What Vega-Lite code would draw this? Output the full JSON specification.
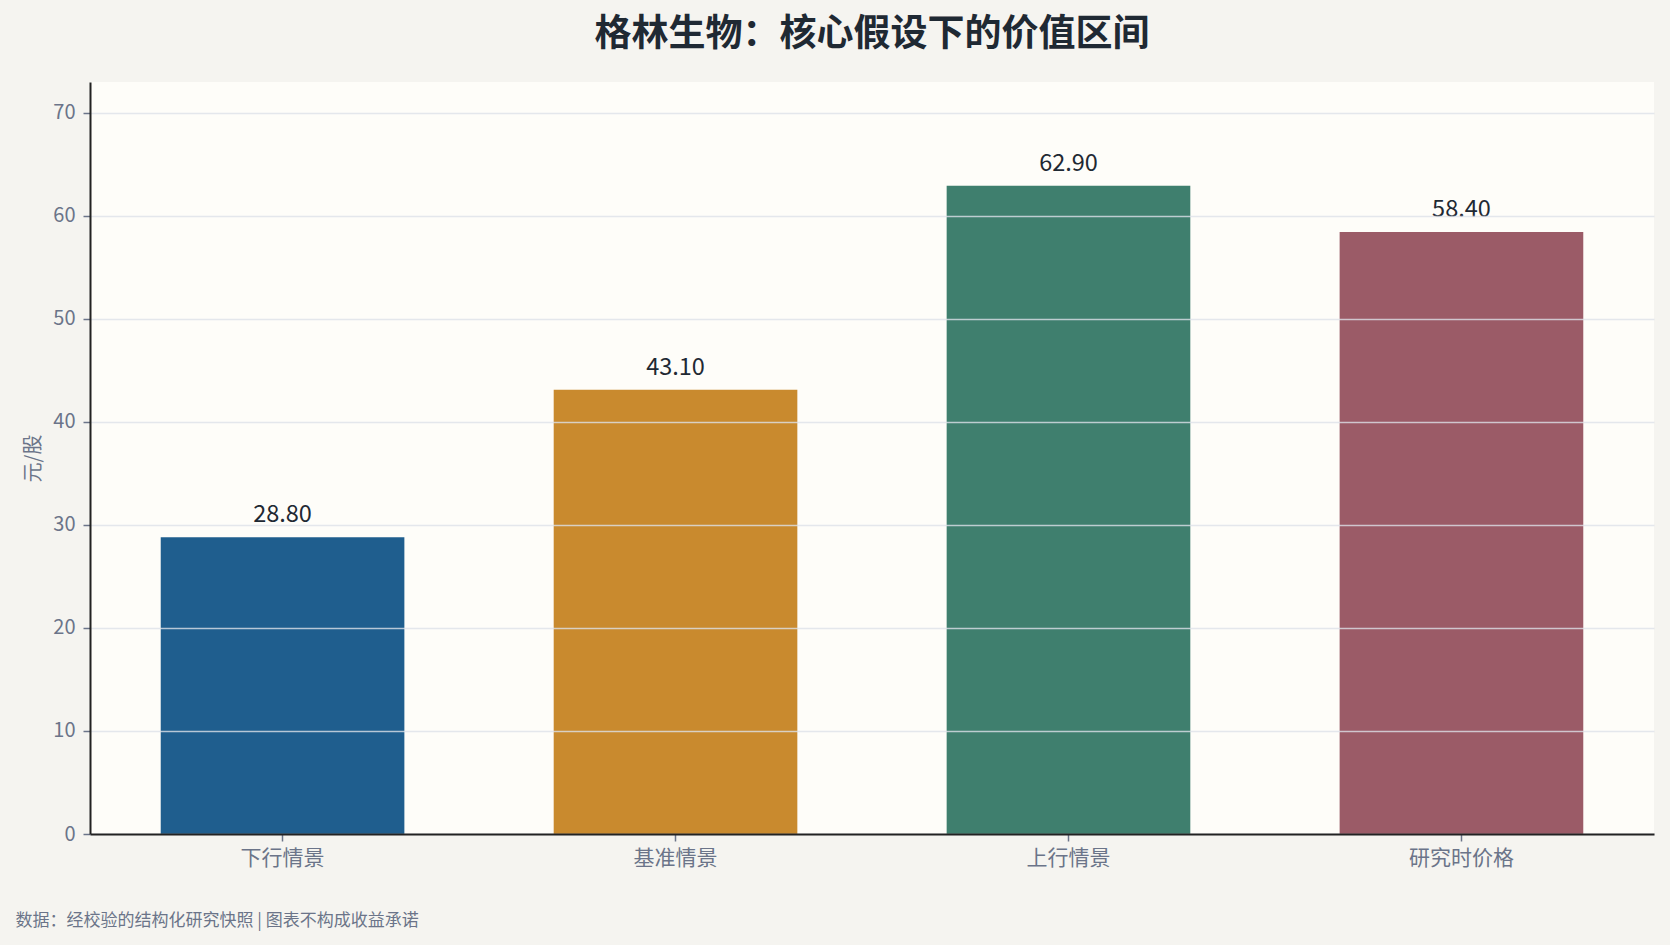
{
  "$schema": "https://vega.github.io/schema/vega-lite/v6.json",
  "autosize": {"type": "none"},
  "padding": {"left": 90, "top": 82, "right": 16, "bottom": 111},
  "width": 1564,
  "height": 752,
  "background": "#f5f4f0",
  "title": {
    "text": "格林生物：核心假设下的价值区间",
    "anchor": "middle",
    "frame": "group",
    "offset": 28,
    "font": "Noto Sans CJK SC",
    "fontSize": 37,
    "fontWeight": "bold",
    "color": "#1f2933"
  },
  "config": {
    "view": {"fill": "#fefdf9", "stroke": null},
    "font": "Noto Sans CJK SC"
  },
  "data": {
    "values": [
      {"scenario": "下行情景", "value": 28.8},
      {"scenario": "基准情景", "value": 43.1},
      {"scenario": "上行情景", "value": 62.9},
      {"scenario": "研究时价格", "value": 58.4}
    ]
  },
  "encoding": {
    "x": {
      "field": "scenario",
      "type": "nominal",
      "sort": null,
      "scale": {"paddingInner": 0.38, "paddingOuter": 0.18},
      "axis": {
        "title": "数据：经校验的结构化研究快照 | 图表不构成收益承诺",
        "titleAnchor": "start",
        "titleAlign": "left",
        "titleX": -75,
        "titleY": 91,
        "titleBaseline": "alphabetic",
        "titleFontSize": 17,
        "titleFontWeight": "normal",
        "titleColor": "#6b7489",
        "labelAngle": 0,
        "labelFontSize": 21,
        "labelColor": "#6b7489",
        "labelPadding": 6,
        "tickSize": 7,
        "tickColor": "#6b7489",
        "tickWidth": 1.5,
        "domainColor": "#222222",
        "domainWidth": 2,
        "grid": false,
        "zindex": 1
      }
    },
    "y": {
      "field": "value",
      "type": "quantitative",
      "scale": {"domain": [0, 72.96], "nice": false},
      "axis": {
        "title": "元/股",
        "titleFontSize": 20,
        "titleFontWeight": "normal",
        "titleColor": "#6b7489",
        "titlePadding": 9,
        "values": [0, 10, 20, 30, 40, 50, 60, 70],
        "labelFontSize": 20,
        "labelColor": "#6b7489",
        "labelPadding": 8,
        "tickSize": 7,
        "tickColor": "#6b7489",
        "tickWidth": 1.5,
        "domainColor": "#222222",
        "domainWidth": 2,
        "grid": true,
        "gridColor": "#dde1e8",
        "gridOpacity": 0.8,
        "gridWidth": 1.4,
        "zindex": 1
      }
    }
  },
  "layer": [
    {
      "mark": {"type": "bar"},
      "encoding": {
        "color": {
          "field": "scenario",
          "type": "nominal",
          "legend": null,
          "scale": {
            "domain": ["下行情景", "基准情景", "上行情景", "研究时价格"],
            "range": ["#1f5e8e", "#c98a2e", "#3f7f6e", "#9b5b67"]
          }
        }
      }
    },
    {
      "mark": {
        "type": "text",
        "baseline": "alphabetic",
        "dy": -15,
        "fontSize": 23.5,
        "color": "#1f2933"
      },
      "encoding": {
        "text": {"field": "value", "type": "quantitative", "format": ".2f"}
      }
    }
  ]
}
